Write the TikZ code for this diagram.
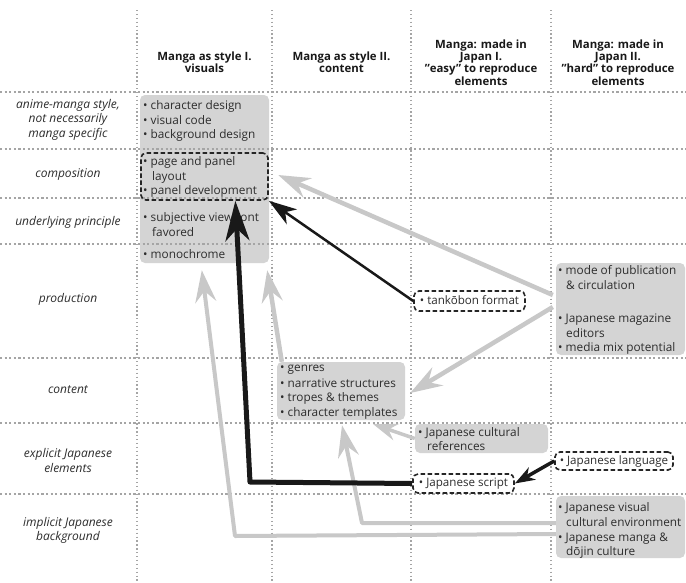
\documentclass[tikz,border=0pt]{standalone}
\usepackage{fontspec}
\setmainfont{Open Sans}
\usetikzlibrary{arrows.meta,calc}
\definecolor{boxgray}{RGB}{212,212,212}
\definecolor{arrgray}{RGB}{200,200,200}
\definecolor{gridgray}{RGB}{165,165,165}
\definecolor{txtcol}{RGB}{45,45,45}
\begin{document}
\begin{tikzpicture}[x=1pt,y=-1pt,
  graybox/.style={draw=none, fill=boxgray, rounded corners=5pt, inner sep=0pt},
  dashbox/.style={draw=black!85, fill=white, dash pattern=on 4.5pt off 2.5pt, line width=1.6pt, rounded corners=5pt, inner sep=0pt, text height=8.5pt, text depth=2pt, font=\fontsize{11.6}{12}\selectfont, text=txtcol},
  dashframe/.style={draw=black!85, dash pattern=on 4.5pt off 2.5pt, line width=1.6pt, rounded corners=5pt, inner sep=0pt},
  itm/.style={anchor=base west, inner sep=0pt, font=\fontsize{11.8}{13}\selectfont, text=txtcol},
  rowlab/.style={align=center, inner sep=0pt, font=\itshape\fontsize{12}{14.5}\selectfont, text=txtcol},
  head/.style={align=center, inner sep=0pt, font=\bfseries\fontsize{11.4}{12.4}\selectfont, text=black!90},
  gridv/.style={draw=gridgray, line width=1.1pt, dash pattern=on 1.3pt off 2.6pt},
  gridh/.style={draw=gridgray, line width=1.1pt, dash pattern=on 2.2pt off 2.4pt},
  garr/.style={draw=arrgray, line width=4.5pt, line join=round, -{Stealth[length=32pt,width=21pt,inset=11pt]}},
  blk/.style={draw=black!90, line join=round}
]
\useasboundingbox (0,0) rectangle (686,582);
\fill[white] (0,0) rectangle (686,582);

% gray boxes
\node[graybox, minimum width=129pt, minimum height=168pt] (vis) at (204.5,179) {};
\node[graybox, minimum width=128pt, minimum height=58pt] (cont) at (341,391) {};
\node[graybox, minimum width=133pt, minimum height=29pt] (cult) at (481.5,438.5) {};
\node[graybox, minimum width=129pt, minimum height=92pt] (prod) at (620.5,309) {};
\node[graybox, minimum width=129pt, minimum height=62pt] (impl) at (620.5,527) {};

% grid
\foreach \gx in {137,272,411,551} \draw[gridv] (\gx,10) -- (\gx,582);
\foreach \gy in {92,149,198,244,358,423,494} \draw[gridh] (0,\gy) -- (686,\gy);

% headers
\node[head] (h1) at (204.5,62.5) {Manga as style I.\\visuals};
\node[head] (h2) at (341.5,62.5) {Manga as style II.\\content};
\node[head] (h3) at (481,62.5) {Manga: made in\\Japan I.\\"easy" to reproduce\\elements};
\node[head] (h4) at (618,62.5) {Manga: made in\\Japan II.\\"hard" to reproduce\\elements};

% row labels
\node[rowlab] (r1) at (68,119.5) {anime-manga style,\\not necessarily\\manga specific};
\node[rowlab] (r2) at (68,175) {composition};
\node[rowlab] (r3) at (68,222) {underlying principle};
\node[rowlab] (r4) at (68,299) {production};
\node[rowlab] (r5) at (68,390) {content};
\node[rowlab] (r6) at (68,460.5) {explicit Japanese\\elements};
\node[rowlab] (r7) at (68,530.5) {implicit Japanese\\background};

% column 1 items
\node[itm] (v1) at (143,109) {• character design};
\node[itm] (v2) at (143,124) {• visual code};
\node[itm] (v3) at (143,138) {• background design};
\node[itm] (v4) at (143,165) {• page and panel};
\node[itm] (v5) at (152,180) {layout};
\node[itm] (v6) at (143,194) {• panel development};
\node[itm] (v7) at (143,221) {• subjective viewpont};
\node[itm] (v8) at (152,236) {favored};
\node[itm] (v9) at (143,258) {• monochrome};

% dashed composition frame
\node[dashframe, minimum width=127pt, minimum height=47pt] (comp) at (204.5,176.5) {};

% column 2 items
\node[itm] (c1) at (280,371) {• genres};
\node[itm] (c2) at (280,387) {• narrative structures};
\node[itm] (c3) at (280,401) {• tropes \& themes};
\node[itm] (c4) at (280,416) {• character templates};

% column 3 items
\node[itm] (k1) at (418,436) {• Japanese cultural};
\node[itm] (k2) at (427,450) {references};
\node[dashbox, minimum width=111pt, minimum height=20pt] (tank) at (469.5,301) {• tankōbon format};
\node[dashbox, minimum width=101pt, minimum height=19pt] (script) at (463.5,483.5) {• Japanese script};

% column 4 items
\node[itm] (p1) at (558,274) {• mode of publication};
\node[itm] (p2) at (566,289) {\& circulation};
\node[itm] (p3) at (558,322) {• Japanese magazine};
\node[itm] (p4) at (566,337) {editors};
\node[itm] (p5) at (558,351) {• media mix potential};
\node[dashbox, minimum width=118pt, minimum height=18pt] (lang) at (614,461) {• Japanese language};
\node[itm] (i1) at (558,511) {• Japanese visual};
\node[itm] (i2) at (566,526) {cultural environment};
\node[itm] (i3) at (558,541) {• Japanese manga \&};
\node[itm] (i4) at (566,555) {dōjin culture};

% gray arrows
\coordinate (g1c) at (362,523);
\coordinate (g2c) at (235,536);
\draw[garr] ($(prod.west)+(-3,-14)$) -- ($(vis.east)+(9,-4)$);
\draw[garr] ($(prod.west)+(-3,-2)$) -- ($(cont.east)+(5,2)$);
\draw[garr] ($(cont.north west)+(5,0)$) -- ($(vis.south east)+(-2,7)$);
\draw[garr, line width=4pt] ($(impl.west)+(0,-4)$) -- (g1c) -- ($(cont.south)+(1,5)$);
\draw[garr, line width=4pt] ($(impl.west)+(0,7)$) -- (g2c) -- ($(vis.south west)+(62,7)$);
\draw[garr, line width=3.5pt, -{Stealth[length=24pt,width=17pt,inset=8pt]}] (cult.west) -- ($(cont.south east)+(-32,4)$);

% black arrows
\coordinate (bc) at (250,482);
\draw[blk, line width=2.5pt, -{Stealth[length=28pt,width=18pt,inset=8pt]}] (tank.west) -- (comp.south east);
\draw[blk, line width=5pt, -{Stealth[length=40pt,width=24pt,inset=12pt]}] (script.west) -- (bc) -- ($(comp.south west)!0.74!(comp.south east)$);
\draw[blk, line width=3.5pt, -{Stealth[length=20pt,width=14pt,inset=6pt]}] (lang.west) -- (script.east);
\end{tikzpicture}
\end{document}
